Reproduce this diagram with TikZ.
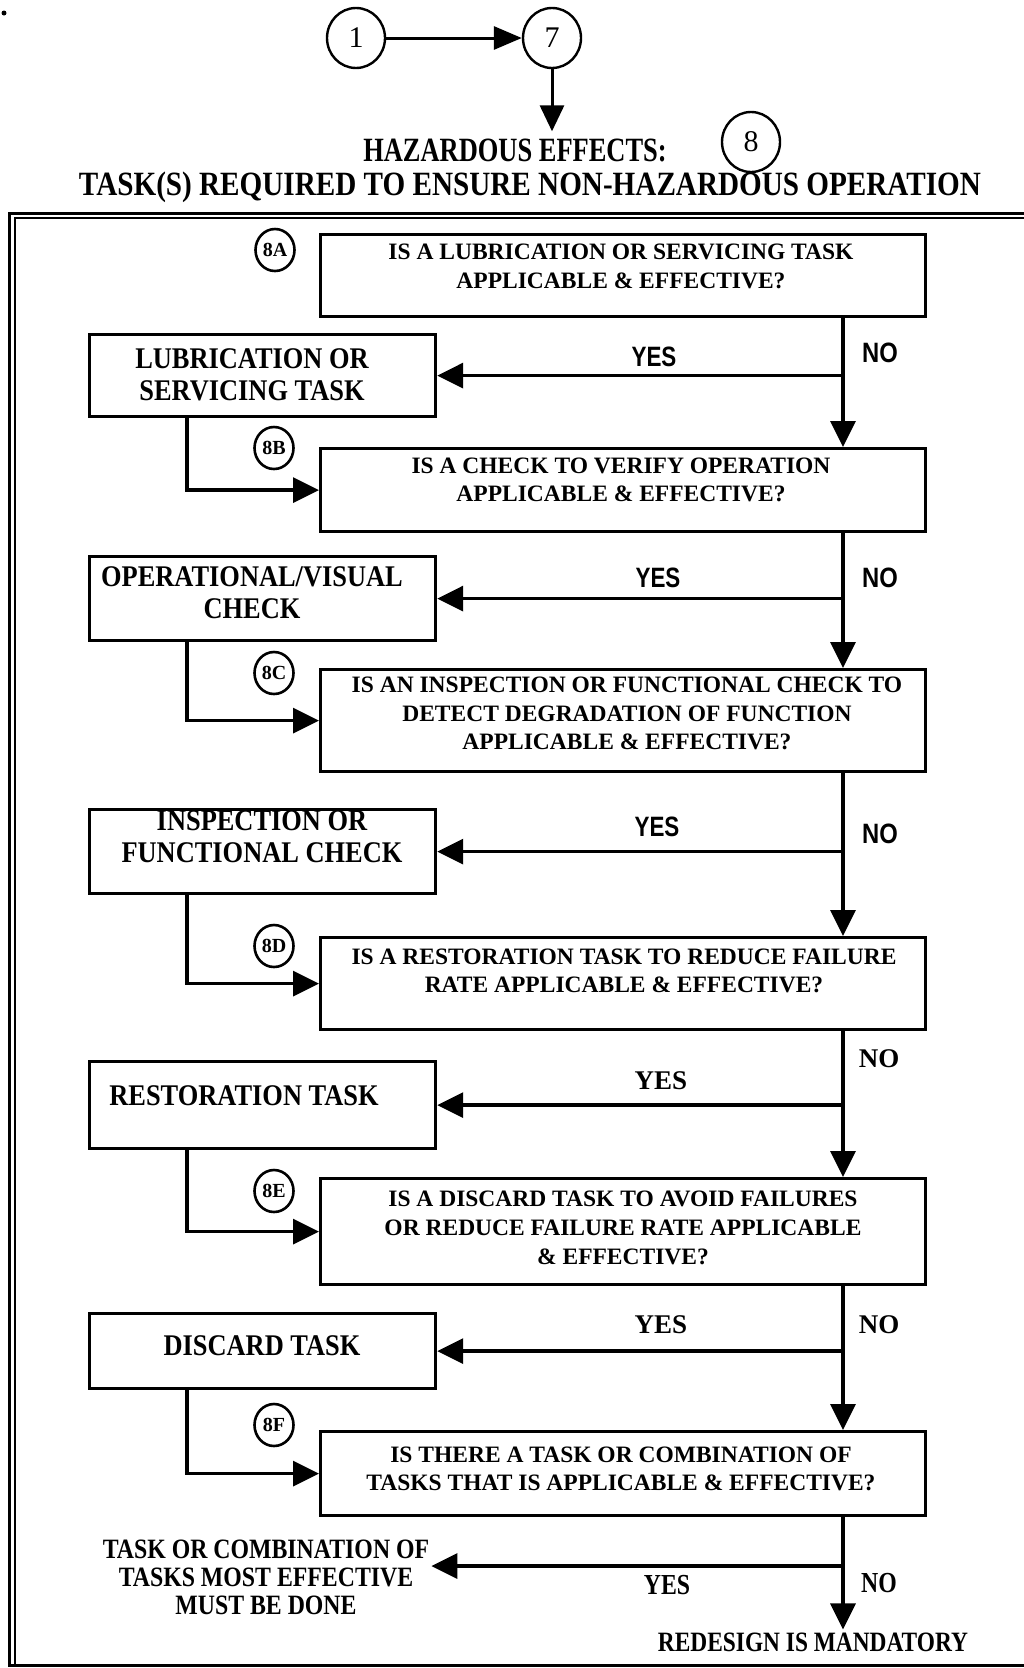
\documentclass[tikz,border=0pt]{standalone}
\usepackage{fontspec}
\usepackage{graphicx}
\setmainfont{Liberation Serif}
\newfontfamily\labelsans{Liberation Sans}
\usetikzlibrary{arrows.meta,shapes.geometric}

% horizontally condensed text
\newcommand{\cnd}[2]{\scalebox{#1}[1]{#2}}
% centred stack of lines, condensed
\newcommand{\stack}[2]{\scalebox{#1}[1]{\begin{tabular}{@{}c@{}}#2\end{tabular}}}
\newcommand{\qfont}{\fontsize{23.5}{28.7}\selectfont\bfseries}
\newcommand{\afont}{\fontsize{30}{32}\selectfont\bfseries}

\tikzset{
  box/.style={draw, line width=3.2pt, inner sep=0pt, anchor=north west},
  arr/.style={line width=3.4pt, -{Triangle[length=26pt,width=25pt]}},
  tag/.style={draw, ellipse, line width=2.6pt, minimum width=39pt, minimum height=42pt, inner sep=0pt,
    font=\fontsize{20}{20}\selectfont\bfseries},
  bigtag/.style={draw, ellipse, line width=2.4pt, minimum width=58pt, minimum height=60pt,
    inner sep=0pt, font=\fontsize{30}{30}\selectfont},
  qtext/.style={inner sep=0pt, align=center, font=\qfont},
  atext/.style={inner sep=0pt, font=\afont},
  sansans/.style={inner sep=0pt, font=\fontsize{28}{28}\selectfont\labelsans\bfseries},
  serans/.style={inner sep=0pt, font=\fontsize{27}{27}\selectfont\bfseries},
  condans/.style={inner sep=0pt, font=\fontsize{29}{29}\selectfont\bfseries},
}

\begin{document}
\begin{tikzpicture}[x=1pt, y=-1pt]
\useasboundingbox (0,0) rectangle (1024,1668);

% stray mark at the corner
\fill (4,13) circle (2.5);

% entry from earlier steps
\node[bigtag] (c1) at (356,38) {1};
\node[bigtag] (c7) at (552,38) {7};
\draw[line width=3pt, -{Triangle[length=28pt,width=23pt]}] (c1.east) -- (c7.west);

\node[inner sep=0pt] (haz) at (515,150)
  {\fontsize{34}{34}\selectfont\bfseries\cnd{0.778}{HAZARDOUS EFFECTS:}};
\node[inner sep=0pt] (task) at (530,187)
  {\fontsize{34}{34}\selectfont\bfseries\cnd{0.858}{TASK(S) REQUIRED TO ENSURE NON-HAZARDOUS OPERATION}};
\node[bigtag] (c8) at (751,142) {8};
\draw[line width=3pt, -{Triangle[length=26pt,width=24pt]}, shorten >=7pt] (c7.south) -- (c7.south |- haz.north);

% double frame
\draw[line width=3pt] (1040,213.5) -- (9.7,213.5) -- (9.7,1665) -- (1040,1665);
\draw[line width=1.6pt] (1040,218) -- (15,218) -- (15,1665);

% flow columns
\coordinate (spine) at (843,0);
\coordinate (tap) at (187,0);

% question boxes
\node[box, minimum width=605pt, minimum height=82pt]  (q8a) at (319,233) {};
\node[box, minimum width=605pt, minimum height=83pt]  (q8b) at (319,447) {};
\node[box, minimum width=605pt, minimum height=102pt] (q8c) at (319,668) {};
\node[box, minimum width=605pt, minimum height=92pt]  (q8d) at (319,936) {};
\node[box, minimum width=605pt, minimum height=106pt] (q8e) at (319,1177) {};
\node[box, minimum width=605pt, minimum height=84pt]  (q8f) at (319,1430) {};

\node[qtext] (t8a) at (621,266.5) {IS A LUBRICATION OR SERVICING TASK\\APPLICABLE \& EFFECTIVE?};
\node[qtext] (t8b) at (621,480) {IS A CHECK TO VERIFY OPERATION\\APPLICABLE \& EFFECTIVE?};
\node[qtext] (t8c) at (627,713.5) {IS AN INSPECTION OR FUNCTIONAL CHECK TO\\DETECT DEGRADATION OF FUNCTION\\APPLICABLE \& EFFECTIVE?};
\node[qtext] (t8d) at (624,971) {IS A RESTORATION TASK TO REDUCE FAILURE\\RATE APPLICABLE \& EFFECTIVE?};
\node[qtext] (t8e) at (623,1228) {IS A DISCARD TASK TO AVOID FAILURES\\OR REDUCE FAILURE RATE APPLICABLE\\\& EFFECTIVE?};
\node[qtext] (t8f) at (621,1469) {IS THERE A TASK OR COMBINATION OF\\TASKS THAT IS APPLICABLE \& EFFECTIVE?};

% step tags
\node[tag] (k8a) at (275,250) {8A};
\node[tag] (k8b) at (274,448) {8B};
\node[tag] (k8c) at (274,673) {8C};
\node[tag] (k8d) at (274,946) {8D};
\node[tag] (k8e) at (274,1191) {8E};
\node[tag] (k8f) at (274,1425) {8F};

% task boxes
\node[box, minimum width=346pt, minimum height=82pt] (lub)  at (88,333) {};
\node[box, minimum width=346pt, minimum height=84pt] (op)   at (88,555) {};
\node[box, minimum width=346pt, minimum height=84pt] (insp) at (88,808) {};
\node[box, minimum width=346pt, minimum height=87pt] (rest) at (88,1060) {};
\node[box, minimum width=346pt, minimum height=75pt] (disc) at (88,1312) {};

\node[atext] at (252,378) {\stack{0.88}{LUBRICATION OR\\SERVICING TASK}};
\node[atext] at (252,596) {\stack{0.88}{OPERATIONAL/VISUAL\\CHECK}};
\node[atext] at (262,840) {\stack{0.88}{INSPECTION OR\\FUNCTIONAL CHECK}};
\node[atext] at (244,1096) {\cnd{0.88}{RESTORATION TASK}};
\node[atext] at (262,1346) {\cnd{0.88}{DISCARD TASK}};

% NO path down the spine
\draw[arr] (q8a.south -| spine) -- (q8b.north -| spine);
\draw[arr] (q8b.south -| spine) -- (q8c.north -| spine);
\draw[arr] (q8c.south -| spine) -- (q8d.north -| spine);
\draw[arr] (q8d.south -| spine) -- (q8e.north -| spine);
\draw[arr] (q8e.south -| spine) -- (q8f.north -| spine);

% YES branches
\draw[arr] (spine |- lub.east) -- (lub.east);
\draw[arr] (spine |- op.east) -- (op.east);
\draw[arr] (spine |- insp.east) -- (insp.east);
\draw[arr] (spine |- rest.east) -- (rest.east);
\draw[arr] (spine |- disc.east) -- (disc.east);

% from each task on to the next question
\draw[arr] (lub.south -| tap) |- (q8b.west);
\draw[arr] (op.south -| tap) |- (q8c.west);
\draw[arr] (insp.south -| tap) |- (q8d.west);
\draw[arr] (rest.south -| tap) |- (q8e.west);
\draw[arr] (disc.south -| tap) |- (q8f.west);

% outcome of the last question
\node[inner sep=2pt] (done) at (266,1581)
  {\fontsize{28}{27.6}\selectfont\bfseries\stack{0.85}{TASK OR COMBINATION OF\\TASKS MOST EFFECTIVE\\MUST BE DONE}};
\node[inner sep=3pt] (redesign) at (813,1642)
  {\fontsize{28}{28}\selectfont\bfseries\cnd{0.835}{REDESIGN IS MANDATORY}};
\coordinate (yesrow) at (0,1566);
\draw[arr] (spine |- yesrow) -- (done.east |- yesrow);
\draw[arr] (q8f.south -| spine) -- (spine |- redesign.north);

% branch labels
\node[sansans] at (654,357) {\cnd{0.8}{YES}};
\node[sansans] at (880,353) {\cnd{0.85}{NO}};
\node[sansans] at (658,578) {\cnd{0.8}{YES}};
\node[sansans] at (880,578) {\cnd{0.85}{NO}};
\node[sansans] at (657,827) {\cnd{0.8}{YES}};
\node[sansans] at (880,834) {\cnd{0.85}{NO}};
\node[serans] at (661,1081) {YES};
\node[serans] at (879,1059) {NO};
\node[serans] at (661,1325) {YES};
\node[serans] at (879,1325) {NO};
\node[condans] at (667,1585) {\cnd{0.82}{YES}};
\node[condans] at (879,1583) {\cnd{0.82}{NO}};

\end{tikzpicture}
\end{document}
